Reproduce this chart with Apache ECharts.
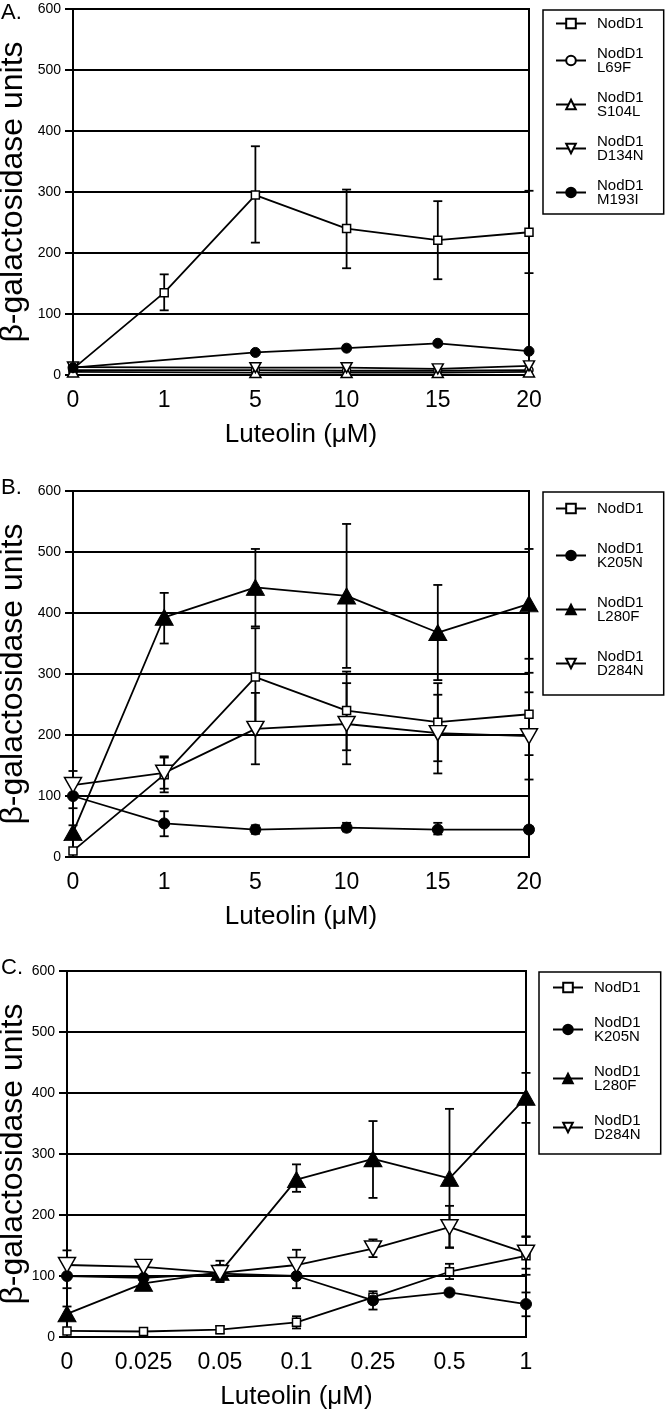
<!DOCTYPE html>
<html>
<head>
<meta charset="utf-8">
<script src="https://cdn.jsdelivr.net/npm/echarts@6/dist/echarts.min.js"></script>
<style>
html,body{margin:0;padding:0;background:#fff;}
#chart{width:666px;height:1411px;}
</style>
</head>
<body>
<div id="chart"></div>
<script>
// ---------- data ----------
const catsAB = ['0', '1', '5', '10', '15', '20'];
const catsC = ['0', '0.025', '0.05', '0.1', '0.25', '0.5', '1'];

// Panel A
const A_NodD1     = [10, 135, 295, 240, 221, 234];
const A_NodD1_lo  = [null, 106, 217, 175, 157, 167];
const A_NodD1_hi  = [null, 165, 375, 304, 285, 302];
const A_L69F      = [8, null, 8, 7, 7, 8];
const A_S104L     = [5, null, 4, 4, 4, 5];
const A_D134N     = [13, null, 12, 12, 10, 15];
const A_M193I     = [12, null, 37, 44, 52, 39];

// Panel B
const B_NodD1     = [10, 135, 295, 240, 221, 234];
const B_NodD1_lo  = [null, 106, 217, 175, 157, 167];
const B_NodD1_hi  = [null, 165, 375, 304, 285, 302];
const B_K205N     = [100, 55, 45, 48, 45, 45];
const B_K205N_lo  = [80, 34, 38, 42, 37, 40];
const B_K205N_hi  = [120, 75, 52, 56, 56, 50];
const B_L280F     = [40, 393, 442, 428, 368, 415];
const B_L280F_lo  = [30, 350, 378, 310, 290, 325];
const B_L280F_hi  = [52, 433, 505, 546, 446, 505];
const B_D284N     = [118, 138, 210, 218, 203, 198];
const B_D284N_lo  = [100, 112, 152, 152, 137, 127];
const B_D284N_hi  = [141, 163, 269, 285, 266, 270];

// Panel C
const C_NodD1     = [10, 9, 12, 24, 65, 107, 133];
const C_NodD1_lo  = [null, null, 6, 14, 55, 95, 102];
const C_NodD1_hi  = [null, null, 18, 34, 75, 120, 165];
const C_K205N     = [100, 97, 104, 100, 60, 73, 54];
const C_K205N_lo  = [80, null, 92, 80, 45, null, 34];
const C_K205N_hi  = [120, null, 118, 118, 68, null, 73];
const C_L280F     = [38, 88, 106, 258, 292, 260, 393];
const C_L280F_lo  = [30, null, null, 238, 228, 147, 351];
const C_L280F_hi  = [50, null, null, 283, 354, 374, 433];
const C_D284N     = [118, 115, 105, 118, 145, 180, 138];
const C_D284N_lo  = [100, null, 90, 105, 131, 146, 112];
const C_D284N_hi  = [142, null, 125, 143, 160, 215, 164];

// ---------- styling ----------
const FONT = "'Liberation Sans', Arial, Helvetica, sans-serif";
const BLACK = '#000';

const STY = {
  NodD1: {symbol: 'rect', size: 8, open: true, rot: 0},
  L69F:  {symbol: 'circle', size: 8, open: true, rot: 0},
  S104L: {symbol: 'triangle', size: [11, 10], open: true, rot: 0},
  D134N: {symbol: 'triangle', size: [11, 10], open: true, rot: 180},
  M193I: {symbol: 'circle', size: 10, open: false, rot: 0},
  K205N: {symbol: 'circle', size: 11, open: false, rot: 0},
  L280F: {symbol: 'triangle', size: [18, 16], open: false, rot: 0},
  D284N: {symbol: 'triangle', size: [17, 15], open: true, rot: 180}
};

function lineSeries(name, key, gi, data) {
  const s = STY[key];
  return {
    type: 'line', name: name, xAxisIndex: gi, yAxisIndex: gi,
    data: data, connectNulls: true, z: 4,
    symbol: s.symbol, symbolSize: s.size, symbolRotate: s.rot, showAllSymbol: true,
    lineStyle: {color: BLACK, width: 1.8},
    itemStyle: s.open ? {color: '#fff', borderColor: BLACK, borderWidth: 1.5}
                      : {color: BLACK, borderColor: BLACK, borderWidth: 1},
    emphasis: {disabled: true}
  };
}

function errRender(params, api) {
  const x = api.value(0), lo = api.value(1), hi = api.value(2);
  const p1 = api.coord([x, lo]), p2 = api.coord([x, hi]);
  const hw = 4.5;
  const st = {stroke: BLACK, lineWidth: 1.8};
  return {type: 'group', children: [
    {type: 'line', shape: {x1: p1[0], y1: p1[1], x2: p2[0], y2: p2[1]}, style: st},
    {type: 'line', shape: {x1: p1[0] - hw, y1: p1[1], x2: p1[0] + hw, y2: p1[1]}, style: st},
    {type: 'line', shape: {x1: p2[0] - hw, y1: p2[1], x2: p2[0] + hw, y2: p2[1]}, style: st}
  ]};
}

let errCount = 0;
function errSeries(gi, lo, hi) {
  const d = [];
  for (let i = 0; i < lo.length; i++) {
    if (lo[i] != null && hi[i] != null) d.push([i, lo[i], hi[i]]);
  }
  errCount++;
  return {type: 'custom', name: 'errorbars' + errCount,
    xAxisIndex: gi, yAxisIndex: gi, renderItem: errRender, data: d, z: 3,
    encode: {x: 0, y: [1, 2]}, silent: true};
}

function xAxisCfg(gi, cats) {
  return {
    gridIndex: gi, type: 'category', data: cats, boundaryGap: false,
    axisLine: {show: true, lineStyle: {color: BLACK, width: 2}},
    axisTick: {show: false},
    axisLabel: {color: BLACK, fontSize: 23, margin: 14, fontFamily: FONT, interval: 0},
    splitLine: {show: false},
    name: 'Luteolin (μM)', nameLocation: 'middle', nameGap: 47,
    nameTextStyle: {color: BLACK, fontSize: 26, fontFamily: FONT}
  };
}

function yAxisCfg(gi, gap) {
  return {
    gridIndex: gi, type: 'value', min: 0, max: 600, interval: 100,
    axisLine: {show: true, lineStyle: {color: BLACK, width: 2}},
    axisTick: {show: true, length: 8, lineStyle: {color: BLACK, width: 2}},
    axisLabel: {color: BLACK, fontSize: 14, margin: 12, fontFamily: FONT},
    splitLine: {show: true, lineStyle: {color: BLACK, width: 2}},
    name: 'β-galactosidase units', nameLocation: 'middle', nameRotate: 90, nameGap: gap,
    nameMoveOverlap: false,
    nameTextStyle: {color: BLACK, fontSize: 32, fontFamily: FONT}
  };
}

function legendCfg(left, top, names, gap, padding) {
  return {
    orient: 'vertical', left: left, top: top, data: names,
    itemGap: gap, itemWidth: 30, itemHeight: 12, padding: padding,
    borderColor: BLACK, borderWidth: 1.5, backgroundColor: '#fff',
    selectedMode: false,
    textStyle: {color: BLACK, fontSize: 15, lineHeight: 14, fontFamily: FONT, padding: [0, 0, 0, 6]}
  };
}

function gridCfg(left, top, width) {
  return {left: left, top: top, width: width, height: 366, show: true,
    borderColor: BLACK, borderWidth: 2, containLabel: false, outerBoundsMode: 'none'};
}

const nA = ['NodD1', 'NodD1\nL69F', 'NodD1\nS104L', 'NodD1\nD134N', 'NodD1\nM193I'];
const nB = ['NodD1', 'NodD1\nK205N', 'NodD1\nL280F', 'NodD1\nD284N'];

const series = [
  // A
  errSeries(0, A_NodD1_lo, A_NodD1_hi),
  lineSeries(nA[0], 'NodD1', 0, A_NodD1),
  lineSeries(nA[1], 'L69F', 0, A_L69F),
  lineSeries(nA[2], 'S104L', 0, A_S104L),
  lineSeries(nA[3], 'D134N', 0, A_D134N),
  lineSeries(nA[4], 'M193I', 0, A_M193I),
  // B
  errSeries(1, B_NodD1_lo, B_NodD1_hi),
  errSeries(1, B_K205N_lo, B_K205N_hi),
  errSeries(1, B_L280F_lo, B_L280F_hi),
  errSeries(1, B_D284N_lo, B_D284N_hi),
  lineSeries(nB[0], 'NodD1', 1, B_NodD1),
  lineSeries(nB[1], 'K205N', 1, B_K205N),
  lineSeries(nB[2], 'L280F', 1, B_L280F),
  lineSeries(nB[3], 'D284N', 1, B_D284N),
  // C
  errSeries(2, C_NodD1_lo, C_NodD1_hi),
  errSeries(2, C_K205N_lo, C_K205N_hi),
  errSeries(2, C_L280F_lo, C_L280F_hi),
  errSeries(2, C_D284N_lo, C_D284N_hi),
  lineSeries(nB[0], 'NodD1', 2, C_NodD1),
  lineSeries(nB[1], 'K205N', 2, C_K205N),
  lineSeries(nB[2], 'L280F', 2, C_L280F),
  lineSeries(nB[3], 'D284N', 2, C_D284N)
];

const chart = echarts.init(document.getElementById('chart'), null, {renderer: 'canvas'});
chart.setOption({
  animation: false,
  backgroundColor: '#fff',
  grid: [gridCfg(73, 9, 456), gridCfg(73, 491, 456), gridCfg(67, 971, 459)],
  xAxis: [xAxisCfg(0, catsAB), xAxisCfg(1, catsAB), xAxisCfg(2, catsC)],
  yAxis: [yAxisCfg(0, 44), yAxisCfg(1, 44), yAxisCfg(2, 38)],
  legend: [
    legendCfg(543, 10, nA, 15, [6, 20, 7, 12]),
    legendCfg(543, 492, nB, 25, [9, 20, 17, 12]),
    legendCfg(539, 972, nB, 20, [8, 20, 12, 13])
  ],
  graphic: [
    {type: 'text', x: 1, y: 13, style: {text: 'A.', fontSize: 22, fontFamily: FONT, fill: BLACK, verticalAlign: 'middle'}},
    {type: 'text', x: 1, y: 488, style: {text: 'B.', fontSize: 22, fontFamily: FONT, fill: BLACK, verticalAlign: 'middle'}},
    {type: 'text', x: 1, y: 968, style: {text: 'C.', fontSize: 22, fontFamily: FONT, fill: BLACK, verticalAlign: 'middle'}}
  ],
  series: series
});
</script>
</body>
</html>
